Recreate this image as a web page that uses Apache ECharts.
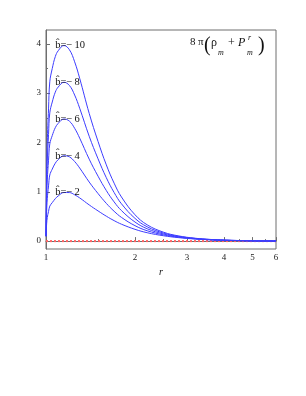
<!DOCTYPE html>
<html><head><meta charset="utf-8">
<script src="https://cdn.jsdelivr.net/npm/echarts@6/dist/echarts.min.js"></script>
<style>html,body{margin:0;padding:0;background:#fff}#c{width:306px;height:396px}</style>
</head><body><div id="c"></div>
<script>
// radial coordinate samples
const rValues = [1.000, 1.005, 1.010, 1.020, 1.030, 1.050, 1.075, 1.100, 1.150, 1.200, 1.250, 1.300, 1.400, 1.500, 1.600, 1.700, 1.800, 2.000, 2.200, 2.500, 2.800, 3.200, 3.600, 4.000, 5.000, 6.000];
// 8π(ρ_m + P^r_m) for each b̂
const bm2  = [0.10, 0.35, 0.48, 0.60, 0.71, 0.78, 0.86, 0.916, 0.985, 0.984, 0.939, 0.876, 0.734, 0.612, 0.505, 0.415, 0.343, 0.239, 0.170, 0.108, 0.071, 0.042, 0.026, 0.016, 0.006, 0.003];
const bm4  = [0.10, 0.60, 0.86, 1.12, 1.34, 1.46, 1.58, 1.652, 1.730, 1.708, 1.613, 1.482, 1.198, 0.964, 0.765, 0.605, 0.481, 0.313, 0.210, 0.126, 0.080, 0.046, 0.028, 0.017, 0.006, 0.003];
const bm6  = [0.10, 0.85, 1.24, 1.64, 1.97, 2.14, 2.30, 2.388, 2.475, 2.432, 2.287, 2.088, 1.662, 1.316, 1.025, 0.795, 0.619, 0.387, 0.250, 0.144, 0.089, 0.050, 0.030, 0.018, 0.007, 0.003];
const bm8  = [0.10, 1.10, 1.62, 2.16, 2.60, 2.82, 3.02, 3.124, 3.220, 3.156, 2.961, 2.694, 2.126, 1.668, 1.285, 0.985, 0.757, 0.461, 0.290, 0.162, 0.098, 0.054, 0.032, 0.019, 0.007, 0.003];
const bm10 = [0.10, 1.35, 2.00, 2.68, 3.23, 3.50, 3.74, 3.860, 3.965, 3.880, 3.635, 3.300, 2.590, 2.020, 1.545, 1.175, 0.895, 0.535, 0.330, 0.180, 0.107, 0.058, 0.034, 0.020, 0.007, 0.003];
const seriesList = [bm2, bm4, bm6, bm8, bm10];
const seriesNames = ['b\u0302=\u2212\u20092', 'b\u0302=\u2212\u20094', 'b\u0302=\u2212\u20096', 'b\u0302=\u2212\u20098', 'b\u0302=\u2212\u200910'];
const labelR = 1.075;
const xTicks = [1, 2, 3, 4, 5, 6];
const xMinorTicks = [1.5, 2.5, 3.5, 4.5, 5.5];
const yTicks = [0, 1, 2, 3, 4];
const yMinorTicks = [0.5, 1.5, 2.5, 3.5];
const zeroLine = [1, 6];

const chart = echarts.init(document.getElementById('c'), null, {renderer: 'canvas'});
const serif = '"Liberation Serif", "DejaVu Serif", serif';
const frame = '#6e6e6e';
const lnTicks = xTicks.map(Math.log);
const lnMinor = xMinorTicks.map(Math.log);

const series = seriesList.map((vals, k) => ({
  type: 'line',
  name: seriesNames[k],
  data: rValues.map((r, i) => [Math.log(r), vals[i]]),
  showSymbol: false,
  smooth: 0.4,
  lineStyle: {color: '#3c3cff', width: 1},
  z: 3,
  markPoint: {
    symbol: 'circle', symbolSize: 0, silent: true,
    data: [{coord: [Math.log(labelR), Math.max(...vals)]}],
    label: {
      show: true, position: 'right', distance: 0,
      formatter: seriesNames[k],
      fontFamily: serif, fontSize: 10.5, color: '#111'
    }
  }
}));
series.push({
  type: 'line',
  data: zeroLine.map(r => [Math.log(r), 0]),
  showSymbol: false,
  lineStyle: {color: '#ff6060', width: 2, type: [2, 2]},
  z: 2
});

const tf = (size, style) => (style || 'normal') + ' ' + size + 'px ' + serif;
const formula = [
  ['8', 190, 42, tf(11)],
  ['\u03c0', 198, 42, tf(11)],
  ['(', 204, 46, tf(20)],
  ['\u03c1', 211, 43, tf(12)],
  ['m', 218, 53, tf(8, 'italic')],
  ['+', 228, 43, tf(12)],
  ['P', 238, 43, tf(12, 'italic')],
  ['r', 248, 38, tf(8, 'italic')],
  ['m', 247, 53, tf(8, 'italic')],
  [')', 258, 46, tf(20)]
];

chart.setOption({
  animation: false,
  grid: {left: 46, right: 30, top: 30, bottom: 147, show: true, borderColor: frame, borderWidth: 1, backgroundColor: 'transparent'},
  xAxis: [{
    type: 'value', min: 0, max: Math.log(6),
    name: 'r', nameLocation: 'middle', nameGap: 17,
    nameTextStyle: {fontFamily: serif, fontStyle: 'italic', fontSize: 10, color: '#111'},
    axisLine: {show: true, lineStyle: {color: frame, width: 1}},
    axisTick: {show: true, inside: true, length: 4, customValues: lnTicks, lineStyle: {color: frame}},
    axisLabel: {customValues: lnTicks, formatter: v => String(Math.round(Math.exp(v))), fontFamily: serif, fontSize: 9, color: '#222', margin: 4},
    splitLine: {show: false}
  }, {
    type: 'value', min: 0, max: Math.log(6), position: 'bottom',
    axisLine: {show: false},
    axisTick: {show: true, inside: true, length: 2, customValues: lnMinor, lineStyle: {color: frame}},
    axisLabel: {show: false},
    splitLine: {show: false}
  }],
  yAxis: [{
    type: 'value', min: -0.16, max: 4.28,
    axisLine: {show: true, lineStyle: {color: frame, width: 1}},
    axisTick: {show: true, inside: true, length: 4, customValues: yTicks, lineStyle: {color: frame}},
    axisLabel: {customValues: yTicks, fontFamily: serif, fontSize: 9, color: '#222', margin: 5},
    splitLine: {show: false}
  }, {
    type: 'value', min: -0.16, max: 4.28, position: 'left',
    axisLine: {show: false},
    axisTick: {show: true, inside: true, length: 2, customValues: yMinorTicks, lineStyle: {color: frame}},
    axisLabel: {show: false},
    splitLine: {show: false}
  }],
  series: series,
  graphic: formula.map(([t, x, y, font]) => ({
    type: 'text', x: x, y: y, z: 10,
    style: {text: t, font: font, fill: '#111', align: 'left', verticalAlign: 'middle'}
  }))
});
</script></body></html>
